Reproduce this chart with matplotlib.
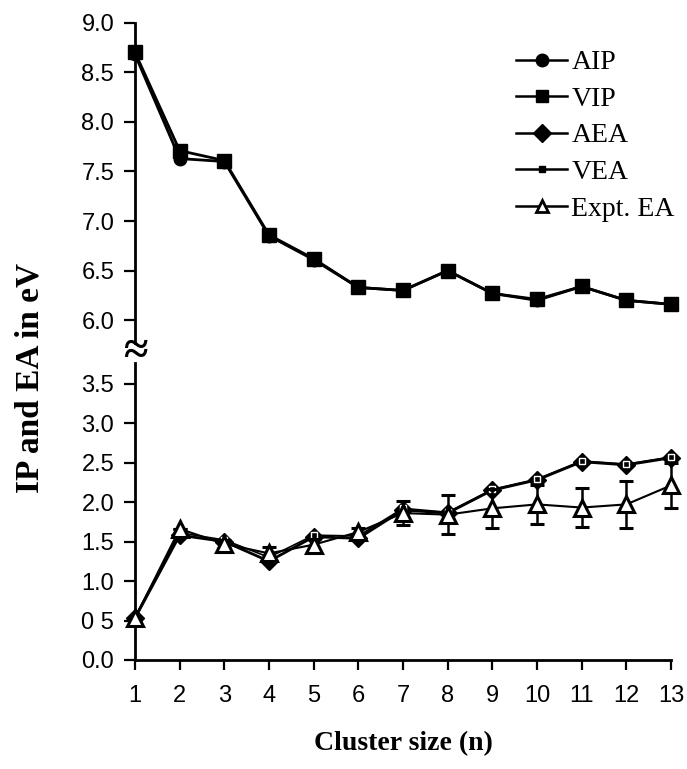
import matplotlib
matplotlib.use('Agg')
import matplotlib.pyplot as plt
from matplotlib.lines import Line2D

# ---- data ----
cluster_size = [1, 2, 3, 4, 5, 6, 7, 8, 9, 10, 11, 12, 13]
aip = [8.68, 7.63, 7.60, 6.85, 6.61, 6.33, 6.30, 6.50, 6.27, 6.20, 6.34, 6.20, 6.16]
vip = [8.70, 7.71, 7.61, 6.86, 6.62, 6.33, 6.30, 6.50, 6.27, 6.21, 6.34, 6.20, 6.16]
aea = [0.53, 1.58, 1.50, 1.25, 1.56, 1.54, 1.90, 1.86, 2.15, 2.28, 2.51, 2.47, 2.56]
vea = [0.55, 1.61, 1.52, 1.30, 1.58, 1.57, 1.92, 1.87, 2.16, 2.29, 2.52, 2.48, 2.57]
expt_ea = [0.53, 1.66, 1.47, 1.35, 1.46, 1.62, 1.86, 1.84, 1.92, 1.97, 1.93, 1.97, 2.21]
expt_err = [0.0, 0.0, 0.05, 0.08, 0.07, 0.05, 0.15, 0.25, 0.25, 0.25, 0.25, 0.30, 0.28]
upper_ticks = [6.0, 6.5, 7.0, 7.5, 8.0, 8.5, 9.0]
upper_ticklabels = ['6.0', '6.5', '7.0', '7.5', '8.0', '8.5', '9.0']
lower_ticks = [0.0, 0.5, 1.0, 1.5, 2.0, 2.5, 3.0, 3.5]
lower_ticklabels = ['0.0', '0 5', '1.0', '1.5', '2.0', '2.5', '3.0', '3.5']
series_names = ['AIP', 'VIP', 'AEA', 'VEA', 'Expt. EA']

SANS = ['Liberation Sans', 'DejaVu Sans']
SERIF = ['Liberation Serif', 'DejaVu Serif']
plt.rcParams['font.family'] = SANS

FW, FH = 687, 769
fig = plt.figure(figsize=(FW / 100, FH / 100), dpi=100)

L = 135 / FW
W = 536 / FW
ax_top = fig.add_axes([L, 1 - 343 / FH, W, (343 - 22.7) / FH])
ax_bot = fig.add_axes([L, 1 - 660 / FH, W, (660 - 363) / FH])

lw = 2.0
# upper series
ax_top.plot(cluster_size, aip, color='black', lw=lw, marker='o', ms=9,
            mfc='black', mec='black', clip_on=False, zorder=3)
ax_top.plot(cluster_size, vip, color='black', lw=lw, marker='s', ms=10,
            mfc='black', mec='black', clip_on=False, zorder=4)

# lower series
ax_bot.plot(cluster_size, aea, color='black', lw=lw, marker='D', ms=9,
            mfc='black', mec='black', clip_on=False, zorder=3)
ax_bot.plot(cluster_size, vea, color='black', lw=1.2, marker='s', ms=4.5,
            mfc='black', mec='white', mew=1.0, clip_on=False, zorder=4)
ax_bot.errorbar(cluster_size, expt_ea, yerr=expt_err, color='black', lw=1.5,
                elinewidth=1.8, capsize=5, capthick=1.8, marker='^', ms=11,
                mfc='white', mec='black', mew=2.2, clip_on=False, zorder=5)

for ax in (ax_top, ax_bot):
    ax.set_xlim(1, 13)
    ax.spines['top'].set_visible(False)
    ax.spines['right'].set_visible(False)
    ax.spines['left'].set_linewidth(2)
    ax.tick_params(axis='y', direction='out', length=8, width=1.6,
                   labelsize=17, pad=7)
    ax.patch.set_alpha(0)

ax_top.set_ylim(5.77, 9.0)
ax_top.set_yticks(upper_ticks)
ax_top.set_yticklabels(upper_ticklabels)
ax_top.spines['bottom'].set_visible(False)
ax_top.tick_params(axis='x', bottom=False, labelbottom=False)

ax_bot.set_ylim(0, 3.76)
ax_bot.set_yticks(lower_ticks)
ax_bot.set_yticklabels(lower_ticklabels)
ax_bot.spines['bottom'].set_linewidth(2)
ax_bot.set_xticks(cluster_size)
ax_bot.set_xticklabels([str(v) for v in cluster_size])
ax_bot.tick_params(axis='x', direction='out', length=7, width=1.6,
                   labelsize=17, pad=11)

# axis break symbol
fig.text(135 / FW, 1 - 352 / FH, '\u2248', fontsize=32, family=SERIF,
         fontweight='bold', ha='center', va='center')

# labels
fig.text(30 / FW, 1 - 378 / FH, 'IP and EA in eV', rotation=90,
         fontsize=24, family=SERIF, fontweight='bold', ha='center', va='center')
fig.text(403 / FW, 1 - 744 / FH, 'Cluster size (n)', fontsize=20,
         family=SERIF, fontweight='bold', ha='center', va='center')

# legend
handles = [
    Line2D([], [], color='black', lw=1.8, marker='o', ms=9, mfc='black', mec='black'),
    Line2D([], [], color='black', lw=1.8, marker='s', ms=9, mfc='black', mec='black'),
    Line2D([], [], color='black', lw=1.8, marker='D', ms=9, mfc='black', mec='black'),
    Line2D([], [], color='black', lw=1.8, marker='s', ms=5, mfc='black', mec='black'),
    Line2D([], [], color='black', lw=1.8, marker='^', ms=8, mfc='white', mec='black', mew=2),
]
leg = fig.legend(handles, series_names, loc='upper left',
                 bbox_to_anchor=(502 / FW, 1 - 36 / FH),
                 frameon=False, prop={'family': SERIF, 'size': 20},
                 handlelength=1.85, handletextpad=0.15, labelspacing=0.4,
                 borderpad=0)

fig.savefig('out.png', dpi=100)
